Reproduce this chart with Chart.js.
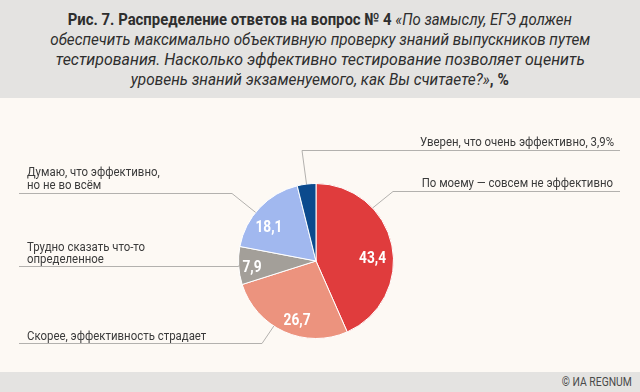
<!DOCTYPE html>
<html><head><meta charset="utf-8">
<script src="https://cdn.jsdelivr.net/npm/chart.js@4"></script>
<style>
html,body{margin:0;padding:0;}
body{width:640px;height:392px;background:#fdf9f4;position:relative;overflow:hidden;font-family:Roboto,"Noto Sans",sans-serif;}
#hdr{position:absolute;left:0;top:0;width:640px;height:98px;background:#e4e3e1;}
#title{position:absolute;left:0;top:9px;width:640px;text-align:center;font-size:17px;line-height:20px;color:#2e2e2e;}
#title .ln{display:block;white-space:nowrap;}
#title .in{display:inline-block;transform-origin:50% 50%;}
#title b{font-weight:bold;}
#title i{font-style:italic;}
#ftr{position:absolute;left:0;top:372px;width:640px;height:20px;background:#e4e3e1;}
#copy{position:absolute;right:8px;top:374px;font-size:13px;color:#4a4a4a;transform-origin:100% 50%;white-space:nowrap;}
#c{position:absolute;left:0;top:0;}
</style></head>
<body>
<div id="hdr"></div>
<div id="title">
<span class="ln"><span class="in"><b>Рис. 7. Распределение ответов на вопрос № 4</b> <i>«По замыслу, ЕГЭ должен</i></span></span>
<span class="ln"><span class="in"><i>обеспечить максимально объективную проверку знаний выпускников путем</i></span></span>
<span class="ln"><span class="in"><i>тестирования. Насколько эффективно тестирование позволяет оценить</i></span></span>
<span class="ln"><span class="in"><i>уровень знаний экзаменуемого, как Вы считаете?»</i><b>, %</b></span></span>
</div>
<div id="ftr"></div>
<div id="copy">© ИА REGNUM</div>
<canvas id="c" width="640" height="392"></canvas>
<script>
const categories = [
  "По моему — совсем не эффективно",
  "Скорее, эффективность страдает",
  "Трудно сказать что-то определенное",
  "Думаю, что эффективно, но не во всём",
  "Уверен, что очень эффективно"
];
const labelLines = [
  ["По моему — совсем не эффективно"],
  ["Скорее, эффективность страдает"],
  ["Трудно сказать что-то", "определенное"],
  ["Думаю, что эффективно,", "но не во всём"],
  ["Уверен, что очень эффективно, 3,9%"]
];
const values = [43.4, 26.7, 7.9, 18.1, 3.9];
const valueLabels = ["43,4", "26,7", "7,9", "18,1", ""];
const colors = ["#e03c3d", "#ec937e", "#a39f99", "#a1b8ef", "#0b4a8d"];

const FONT = 'Roboto,"Noto Sans",sans-serif';

// condense header lines to the reference widths
const targetW = [504, 540, 529, 378];
document.querySelectorAll('#title .in').forEach((el,i)=>{
  const w = el.getBoundingClientRect().width;
  el.style.transform = 'scaleX(' + (targetW[i]/w) + ')';
});
(function(){
  const el = document.getElementById('copy');
  const w = el.getBoundingClientRect().width;
  el.style.transform = 'scaleX(' + (70/w) + ')';
})();

// leader routing (style/layout)
const leaders = [
  {frac:0.30, elbow:[393,191], end:620, side:'right', textX:613, textY:[187]},
  {frac:0.59, elbow:[262,343], end:19, side:'left', textX:27, textY:[340]},
  {frac:0.50, elbow:null, end:19, side:'left', textX:27, textY:[251,263]},
  {frac:0.43, elbow:[232,193], end:19, side:'left', textX:27, textY:[176,189]},
  {frac:0.50, elbow:[302,150], end:620, side:'right', textX:614, textY:[146]}
];
const inner = [
  {frac:0.56, r:0.73},
  {frac:0.43, r:0.81},
  {frac:0.41, r:0.83},
  {frac:0.37, r:0.74},
  null
];

function condensedText(ctx, t, x, y, sx){
  ctx.save();
  ctx.translate(x, y);
  ctx.scale(sx, 1);
  ctx.fillText(t, 0, 0);
  ctx.restore();
}

const leaderPlugin = {
  id:'leaders',
  afterDatasetsDraw(chart){
    const ctx = chart.ctx;
    const arcs = chart.getDatasetMeta(0).data;
    ctx.save();
    ctx.font = '13px ' + FONT;
    const sxLab = 194 / ctx.measureText(labelLines[4][0]).width;
    ctx.font = 'bold 16px ' + FONT;
    const sxVal = 27 / ctx.measureText(valueLabels[0]).width;
    arcs.forEach((arc,i)=>{
      const p = arc.getProps(['x','y','startAngle','endAngle','outerRadius'], true);
      const L = leaders[i];
      const a = p.startAngle + (p.endAngle-p.startAngle)*L.frac;
      const ax = p.x + Math.cos(a)*p.outerRadius;
      const ay = p.y + Math.sin(a)*p.outerRadius;
      ctx.strokeStyle = '#b3b1ae';
      ctx.lineWidth = 1;
      ctx.beginPath();
      ctx.moveTo(ax, ay);
      let ly;
      if (L.elbow){ ctx.lineTo(L.elbow[0], L.elbow[1]+0.5); ly = L.elbow[1]+0.5; }
      else { ly = Math.round(ay)+0.5; ctx.lineTo(ax, ly); }
      ctx.lineTo(L.end, ly);
      ctx.stroke();
      ctx.fillStyle = '#3b3b3b';
      ctx.font = '13px ' + FONT;
      ctx.textAlign = L.side==='right' ? 'right' : 'left';
      ctx.textBaseline = 'alphabetic';
      labelLines[i].forEach((t,k)=>condensedText(ctx, t, L.textX, L.textY[k], sxLab));
      const V = inner[i];
      if (V){
        const b = p.startAngle + (p.endAngle-p.startAngle)*V.frac;
        const vx = p.x + Math.cos(b)*p.outerRadius*V.r;
        const vy = p.y + Math.sin(b)*p.outerRadius*V.r;
        ctx.fillStyle = '#ffffff';
        ctx.font = 'bold 16px ' + FONT;
        ctx.textAlign = 'center';
        ctx.textBaseline = 'middle';
        condensedText(ctx, valueLabels[i], vx, vy, sxVal);
      }
    });
    ctx.restore();
  }
};

new Chart(document.getElementById('c'), {
  type:'pie',
  data:{labels:categories, datasets:[{data:values, backgroundColor:colors, borderColor:'#ffffff', borderWidth:1}]},
  options:{
    responsive:false, animation:false,
    layout:{padding:{top:183,bottom:53,left:150,right:158}},
    plugins:{legend:{display:false}, tooltip:{enabled:false}}
  },
  plugins:[leaderPlugin]
});
</script>
</body></html>
